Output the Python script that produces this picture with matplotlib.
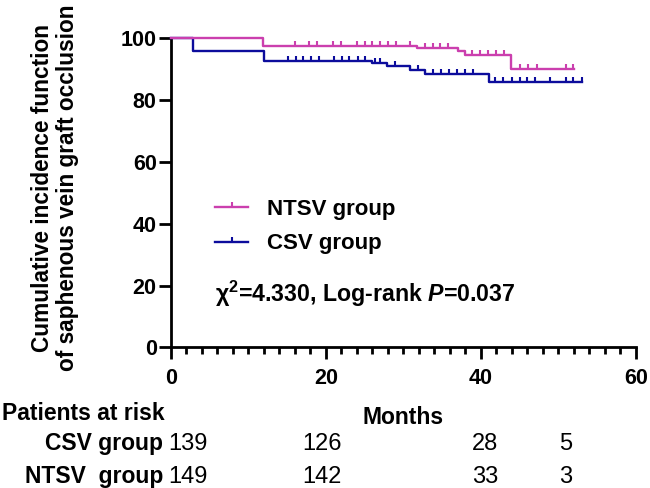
import matplotlib
matplotlib.use("Agg")
import matplotlib.pyplot as plt
import numpy as np
from matplotlib.path import Path
from matplotlib.lines import Line2D
from matplotlib.ticker import MultipleLocator

plt.rcParams['font.family'] = ['Liberation Sans', 'DejaVu Sans']
plt.rcParams['mathtext.fontset'] = 'custom'
plt.rcParams['mathtext.rm'] = 'Liberation Sans:bold'
plt.rcParams['mathtext.bf'] = 'Liberation Sans:bold'
plt.rcParams['mathtext.it'] = 'Liberation Sans:italic:bold'

# step curves (months, percent)
csv_times = [0, 2.9, 12, 25.9, 27.9, 30.9, 32.8, 41.0, 53.0]
csv_surv = [100, 96.0, 92.8, 92.1, 91.1, 89.8, 88.5, 85.7, 85.7]
ntsv_times = [0, 11.9, 31.8, 37.0, 37.9, 43.9, 52.0]
ntsv_surv = [100, 97.6, 96.8, 95.8, 94.5, 90.0, 90.0]

# censored observations
csv_censor = [15.1, 16.1, 17.1, 18.1, 19.1, 21.1, 22.1, 23.0, 24.1, 25.1,
              26.3, 27.0, 28.9, 31.9, 33.8, 34.8, 35.9, 36.9, 38.0, 39.0,
              41.8, 42.9, 44.0, 45.0, 46.0, 47.0, 48.9, 51.0, 51.9, 53.0]
ntsv_censor = [16.0, 17.9, 18.9, 20.9, 21.9, 24.0, 25.0, 26.0, 27.0, 28.0,
               29.0, 30.9, 32.8, 33.8, 34.7, 35.8, 38.9, 39.9, 40.9, 41.9,
               43.0, 45.1, 46.1, 47.2, 51.0, 51.9]

groups = ["CSV group", "NTSV group"]
risk_csv = [139, 126, 28, 5]
risk_ntsv = [149, 142, 33, 3]
risk_label_x = [2.2, 19.5, 40.5, 50.9]  # where the numbers sit under the axis

pink = '#CB3FAE'
blue = '#0C0C9C'

up_tick = Path([(0, 0), (0, 1)], [Path.MOVETO, Path.LINETO])


def level_at(times, surv, t):
    idx = np.searchsorted(times, t, side='right') - 1
    return np.array(surv)[idx]


fig = plt.figure(figsize=(6.5, 4.88), dpi=100)
ax = fig.add_axes([0.2626, 0.2883, 0.7158, 0.6332])

ax.step(csv_times, csv_surv, where='post', color=blue, lw=1.7, clip_on=False, zorder=3)
ax.step(ntsv_times, ntsv_surv, where='post', color=pink, lw=1.7, clip_on=False, zorder=3)
ax.plot(csv_censor, level_at(csv_times, csv_surv, csv_censor), ls='none', marker=up_tick,
        ms=7.5, mew=1.5, color=blue, clip_on=False, zorder=3)
ax.plot(ntsv_censor, level_at(ntsv_times, ntsv_surv, ntsv_censor), ls='none', marker=up_tick,
        ms=7.5, mew=1.5, color=pink, clip_on=False, zorder=3)

ax.set_xlim(0, 60)
ax.set_ylim(0, 100)
ax.spines['top'].set_visible(False)
ax.spines['right'].set_visible(False)
for s in ['left', 'bottom']:
    ax.spines[s].set_linewidth(2.0)
ax.xaxis.set_major_locator(MultipleLocator(20))
ax.xaxis.set_minor_locator(MultipleLocator(2))
ax.yaxis.set_major_locator(MultipleLocator(20))
ax.tick_params(axis='both', which='major', length=8.6, width=2.0, labelsize=15.5)
ax.tick_params(axis='x', which='minor', length=5, width=2.0)
ax.tick_params(axis='x', which='major', pad=6)
ax.tick_params(axis='y', which='major', pad=1.5)
for lab in ax.get_xticklabels() + ax.get_yticklabels():
    lab.set_fontweight('bold')

ax.set_xlabel("Months", fontsize=16.5, fontweight='bold')
ax.xaxis.set_label_coords(0.5, -0.19)

fig.text(55 / 650, 1 - 188 / 488,
         "Cumulative incidence function\nof saphenous vein graft occlusion",
         rotation=90, ha='center', va='center', multialignment='center',
         fontsize=16.3, fontweight='bold', linespacing=1.1)

handles = [Line2D([], [], color=pink, lw=1.7, marker=up_tick, ms=7.5, mew=1.5),
           Line2D([], [], color=blue, lw=1.7, marker=up_tick, ms=7.5, mew=1.5)]
ax.legend(handles, ["NTSV group", "CSV group"], loc='upper left',
          bbox_to_anchor=(0.095, 0.48), frameon=False, borderpad=0, borderaxespad=0,
          handlelength=1.5, handletextpad=0.85, labelspacing=0.6,
          prop={'weight': 'bold', 'size': 16})

ax.text(0.095, 0.148, "χ$^{\\mathbf{2}}$=4.330, Log-rank $\\mathit{P}$=0.037",
        transform=ax.transAxes, fontsize=16.7, fontweight='bold', va='baseline')

# number at risk table
fig.text(0.003, 1 - 420 / 488, "Patients at risk", fontsize=16.5, fontweight='bold',
         ha='left', va='baseline')
row_y = [1 - 450 / 488, 1 - 483 / 488]
row_names = ["CSV group", "NTSV  group"]
trans = ax.get_xaxis_transform()
for name, ypos, counts in zip(row_names, row_y, [risk_csv, risk_ntsv]):
    fig.text(163.3 / 650, ypos, name, fontsize=16.5, fontweight='bold',
             ha='right', va='baseline')
    for xm, n in zip(risk_label_x, counts):
        yax = (ypos * 488 - 0.2883 * 488) / (0.6332 * 488)
        ax.text(xm, yax, str(n), transform=trans, fontsize=17, ha='center',
                va='baseline', clip_on=False)

fig.savefig("out.png", dpi=100)
